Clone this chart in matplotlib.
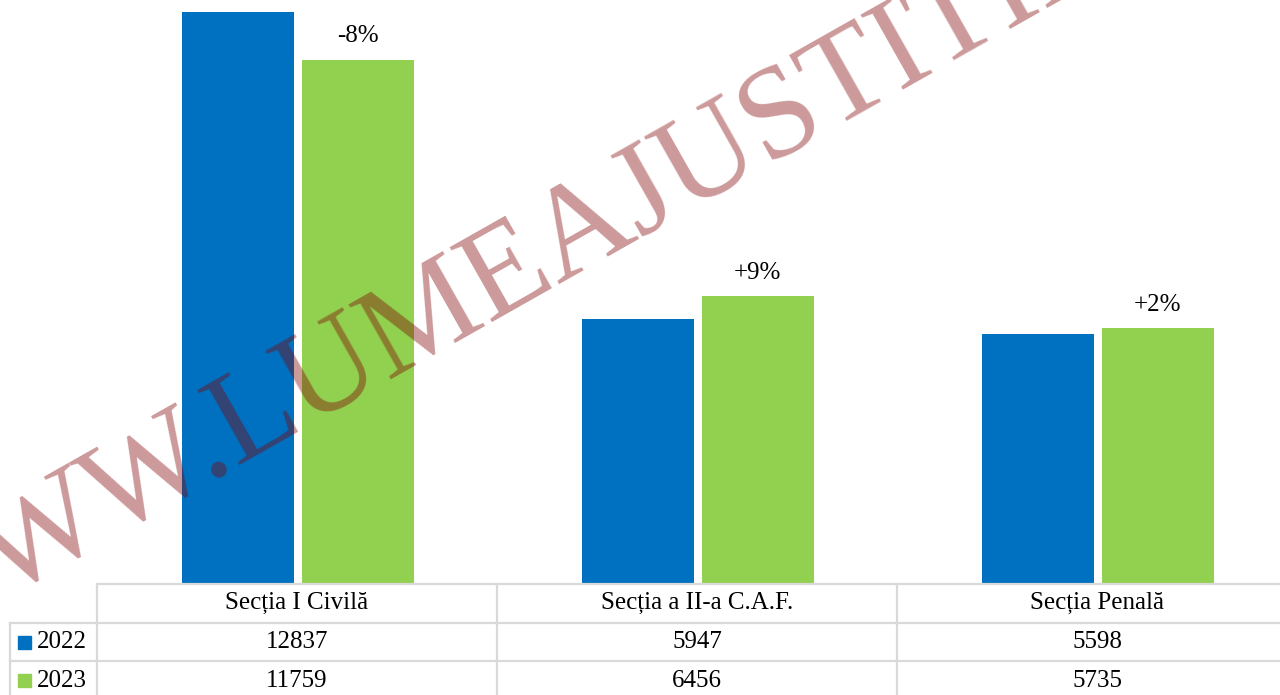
import matplotlib
matplotlib.use("Agg")
import matplotlib.pyplot as plt
from matplotlib.transforms import blended_transform_factory
from matplotlib.patches import Rectangle

# date
categorii = ["Secția I Civilă", "Secția a II-a C.A.F.", "Secția Penală"]
ani = ["2022", "2023"]
val_2022 = [12837, 5947, 5598]
val_2023 = [11759, 6456, 5735]
variatie = ["-8%", "+9%", "+2%"]
culori = ["#0070C0", "#92D050"]

W, H = 1280, 695
plt.rcParams["font.family"] = ["Liberation Serif", "DejaVu Serif"]

fig = plt.figure(figsize=(W / 100, H / 100), dpi=100)
ax = fig.add_axes([97 / W, 111 / H, 1200 / W, 584 / H])
ax.set_xlim(-0.5, 2.5)
ax.set_ylim(0, 13100)
ax.axis("off")

x = range(len(categorii))
latime = 0.28
ax.bar([i - 0.1485 for i in x], val_2022, width=latime, color=culori[0], zorder=2)
bare23 = ax.bar([i + 0.1515 for i in x], val_2023, width=latime, color=culori[1], zorder=2)

for b, txt in zip(bare23, variatie):
    ax.annotate(txt, (b.get_x() + b.get_width() / 2, b.get_height()),
                xytext=(0, 9), textcoords="offset points",
                ha="center", va="bottom", fontsize=18, color="black")

# tabel de date sub grafic
tr = blended_transform_factory(ax.transData, ax.transAxes)
rh = 38.7 / 584
x_st = -0.5 - 87 / 400
x_dr = 2.6
gri = "#d9d9d9"
lw = 1.6

ax.plot([-0.5, x_dr], [0, 0], color=gri, lw=lw, transform=tr, clip_on=False)
for k in (1, 2):
    ax.plot([x_st, x_dr], [-k * rh, -k * rh], color=gri, lw=lw, transform=tr, clip_on=False)
for xv in (-0.5, 0.5, 1.5):
    ax.plot([xv, xv], [0, -3.2 * rh], color=gri, lw=lw, transform=tr, clip_on=False)
ax.plot([x_st, x_st], [-rh, -3.2 * rh], color=gri, lw=lw, transform=tr, clip_on=False)

for i, c in enumerate(categorii):
    ax.text(i, -0.5 * rh, c, ha="center", va="center", fontsize=18,
            transform=tr, clip_on=False)

for r, (an, vals) in enumerate(zip(ani, [val_2022, val_2023])):
    yc = -(r + 1.5) * rh
    ax.add_patch(Rectangle((-0.5 - 79 / 400, yc - 6.5 / 584), 13 / 400, 13 / 584,
                           color=culori[r], transform=tr, clip_on=False))
    ax.text(-0.5 - 60 / 400, yc, an, ha="left", va="center", fontsize=18,
            transform=tr, clip_on=False)
    for i, v in enumerate(vals):
        ax.text(i, yc, str(v), ha="center", va="center", fontsize=18,
                transform=tr, clip_on=False)

# filigran
fig.text(-102 / W, 37 / H, "WWW.LUMEAJUSTITIEI.RO", fontsize=94,
         color="#800000", alpha=0.4, rotation=29.5, rotation_mode="anchor",
         ha="left", va="baseline", zorder=10)

fig.savefig("out.png", dpi=100)
